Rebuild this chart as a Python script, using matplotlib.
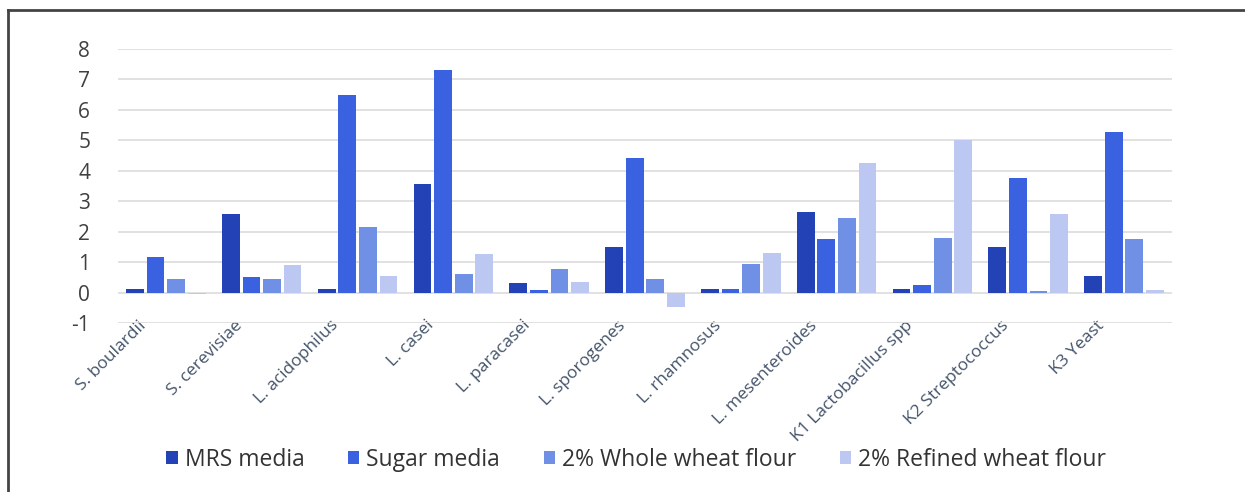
import matplotlib.pyplot as plt
import numpy as np
from matplotlib.lines import Line2D
from matplotlib.transforms import ScaledTranslation

plt.rcParams['font.family'] = ['Open Sans', 'DejaVu Sans']
plt.rcParams['axes.unicode_minus'] = False

# Datos
strains = ['S. boulardii', 'S. cerevisiae', 'L. acidophilus', 'L. casei', 'L. paracasei',
           'L. sporogenes', 'L. rhamnosus', 'L. mesenteroides', 'K1 Lactobacillus spp',
           'K2 Streptococcus', 'K3 Yeast']
mrs_media = [0.13, 2.57, 0.12, 3.55, 0.32, 1.48, 0.12, 2.63, 0.12, 1.48, 0.53]
sugar_media = [1.18, 0.50, 6.50, 7.30, 0.08, 4.43, 0.12, 1.75, 0.25, 3.75, 5.26]
whole_wheat = [0.45, 0.45, 2.15, 0.62, 0.76, 0.43, 0.95, 2.44, 1.80, 0.06, 1.75]
refined_wheat = [-0.05, 0.90, 0.56, 1.25, 0.36, -0.46, 1.30, 4.24, 5.00, 2.57, 0.10]

series = [mrs_media, sugar_media, whole_wheat, refined_wheat]
names = ['MRS media', 'Sugar media', '2% Whole wheat flour', '2% Refined wheat flour']
colors = ['#2342B5', '#3A62E0', '#7090E6', '#BCC8F2']

fig = plt.figure(figsize=(12.45, 4.92), dpi=100)
ax = fig.add_axes([0.0948, 0.3435, 0.8465, 0.5569])

x = np.arange(len(strains))
slot = 0.215
for i, vals in enumerate(series):
    ax.bar(x + (i - 1.5) * slot, vals, width=0.185, color=colors[i], label=names[i], zorder=3)

ax.set_xlim(-0.5, len(strains) - 0.5)
ax.set_ylim(-1, 8)
ax.set_yticks(range(-1, 9))
ax.yaxis.grid(True, color='#DCDCDC', linewidth=1.2, zorder=0)
for s in ax.spines.values():
    s.set_visible(False)
ax.tick_params(axis='y', length=0, pad=20, labelsize=15, labelcolor='#404040')
ax.tick_params(axis='x', length=0, pad=-4)

ax.set_xticks(x)
ax.set_xticklabels(strains, rotation=45, ha='right', fontsize=12.5, color='#44546A')
shift = ScaledTranslation(-16 / 100, 0, fig.dpi_scale_trans)
for lbl in ax.get_xticklabels():
    lbl.set_transform(lbl.get_transform() + shift)

fig.legend(loc='center', bbox_to_anchor=(0.511, 0.065), ncol=4, frameon=False,
           fontsize=16.5, labelcolor='#333333', handlelength=0.5, handleheight=0.5,
           handletextpad=0.3, columnspacing=1.9)

# Borde del recuadro (solo izquierda y arriba visibles)
fig.add_artist(Line2D([0.0064, 0.0064], [0.0, 0.979], color='#444444', linewidth=2))
fig.add_artist(Line2D([0.0064, 1.0], [0.979, 0.979], color='#444444', linewidth=2))

fig.savefig('out.png', dpi=100)
